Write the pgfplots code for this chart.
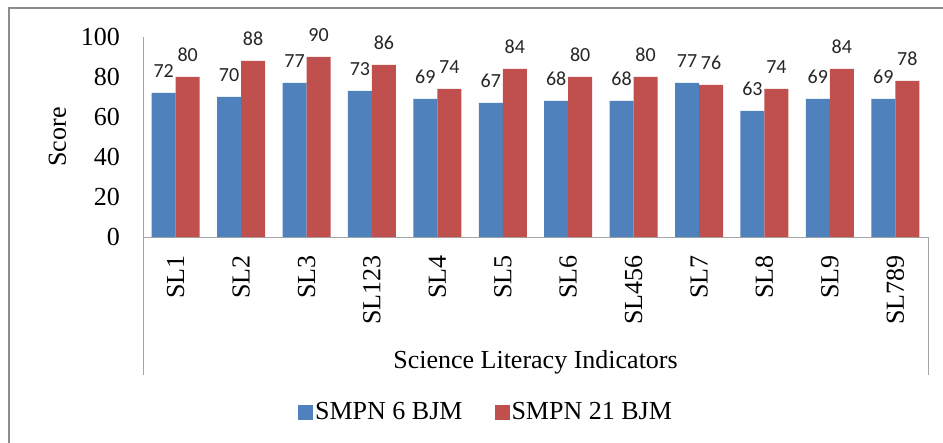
\documentclass[border=0pt]{standalone}
\usepackage{pgfplots}
\pgfplotsset{compat=1.18}
\usepackage{fontspec}
\setmainfont{Liberation Serif}
\newfontfamily\labfont{Carlito}
\definecolor{ablue}{HTML}{4F81BD}
\definecolor{ared}{HTML}{C0504D}
\definecolor{axgray}{HTML}{A6A6A6}
\definecolor{framegray}{HTML}{8C8C8C}
\begin{document}
\begin{tikzpicture}
\path[use as bounding box] (0,0) rectangle (943bp,443bp);
\fill[white] (0,0) rectangle (943bp,443bp);
\draw[framegray, line width=2bp] (9bp,0) -- (9bp,435bp) -- (943bp,435bp);
\begin{axis}[
  at={(143bp,206bp)}, anchor=south west, scale only axis,
  width=785bp, height=200bp,
  xmin=-0.5, xmax=11.5, ymin=0, ymax=100,
  clip=false,
  ybar=0pt, bar width=24bp,
  axis x line*=bottom, axis y line*=left,
  axis line style={-, axgray, line width=0.8bp},
  major tick length=0pt,
  xtick={0,...,11},
  xticklabels={SL1,SL2,SL3,SL123,SL4,SL5,SL6,SL456,SL7,SL8,SL9,SL789},
  xticklabel style={rotate=90, anchor=east, inner sep=0pt, font=\fontsize{26bp}{30bp}\selectfont},
  xticklabel shift=18bp,
  ytick={0,20,...,100},
  yticklabel style={anchor=east, inner sep=0pt, font=\fontsize{26bp}{30bp}\selectfont},
  yticklabel shift=23bp,
  /pgf/number format/assume math mode=true,
  ylabel={Score},
  ylabel style={at={(axis description cs:-0.0981,0.5)}, anchor=base, inner sep=0pt, font=\fontsize{26bp}{30bp}\selectfont},
  xlabel={Science Literacy Indicators},
  xlabel style={at={(axis description cs:0.5,-0.655)}, anchor=base, inner sep=0pt, font=\fontsize{26bp}{30bp}\selectfont},
  nodes near coords,
  every node near coord/.append style={font=\labfont\fontsize{20bp}{22bp}\selectfont, inner sep=0pt, yshift=15bp, text=black!85},
  legend style={at={(axis description cs:0.437,-0.875)}, anchor=center, draw=none, fill=none,
    font=\fontsize{26bp}{30bp}\selectfont, legend columns=2,
    /tikz/every even column/.append style={column sep=30bp}},
  sqlegend/.style={legend image code/.code={\fill[##1] (0bp,-7.5bp) rectangle (15bp,7.5bp);}},
]
\addplot[fill=ablue, draw=none, sqlegend] coordinates {
(0,72) (1,70) (2,77) (3,73) (4,69) (5,67) (6,68) (7,68) (8,77) (9,63) (10,69) (11,69)};
\addplot[fill=ared, draw=none, sqlegend] coordinates {
(0,80) (1,88) (2,90) (3,86) (4,74) (5,84) (6,80) (7,80) (8,76) (9,74) (10,84) (11,78)};
\legend{SMPN 6 BJM, SMPN 21 BJM}
\draw[axgray, line width=0.8bp] (axis description cs:0,0) -- (axis description cs:0,-0.69);
\draw[axgray, line width=0.8bp] (axis description cs:1,0) -- (axis description cs:1,-0.69);
\end{axis}
\end{tikzpicture}
\end{document}
